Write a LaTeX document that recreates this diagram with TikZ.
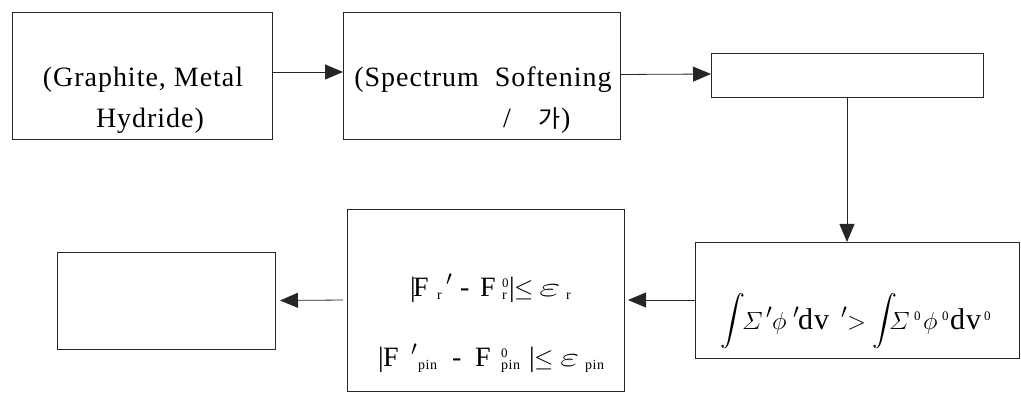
\documentclass[tikz,border=0pt]{standalone}
\usepackage{amsmath}
\usepackage{graphicx}
\usepackage{fontspec}
\setmainfont[LetterSpace=3.5]{Liberation Serif}
\newfontfamily\krfont{Noto Sans CJK KR}
% place a piece of a formula at a given offset from the start of its line
\newcommand\putat[2]{\makebox[0pt][l]{\hspace*{#1}#2}}
\newcommand\subs[1]{\raisebox{-2.5pt}{\fontsize{14}{14}\selectfont #1}}
\newcommand\sups[1]{\raisebox{9.5pt}{\fontsize{13}{13}\selectfont #1}}
\newcommand\mypr{\raisebox{11pt}{\fontsize{22}{22}\selectfont$\prime$}}
\newcommand\myle{\fontsize{28}{28}\selectfont$\leq$}
\newcommand\myeps[1]{\scalebox{#1}[1.1]{\fontsize{28}{28}\selectfont$\varepsilon$}}
\newcommand\myint{\raisebox{3pt}{\fontsize{26}{26}\selectfont$\displaystyle\int$}}
\usetikzlibrary{arrows.meta}
\begin{document}
\begin{tikzpicture}[x=1pt,y=-1pt,
  box/.style={draw=black!85,line width=0.8pt,inner sep=0pt,outer sep=0pt},
  lbl/.style={inner sep=0pt,anchor=base,font=\fontsize{28}{32}\selectfont},
  fml/.style={inner sep=0pt,anchor=base west,font=\fontsize{28}{32}\selectfont},
  arr/.style={draw=black!85,line width=0.8pt,-{Triangle[length=18pt,width=15pt]}}]
\useasboundingbox (0,0) rectangle (1021,403);
% boxes
\node[box,minimum width=260pt,minimum height=127pt] (b1) at (142,75.5) {};
\node[box,minimum width=277pt,minimum height=127pt] (b2) at (481.5,75.5) {};
\node[box,minimum width=272pt,minimum height=44pt] (b3) at (847,75) {};
\node[box,minimum width=324pt,minimum height=116pt] (b4) at (857,300) {};
\node[box,minimum width=277pt,minimum height=182pt] (b5) at (485.5,300) {};
\node[box,minimum width=218pt,minimum height=97pt] (b6) at (166,300.5) {};
% texts
\node[lbl] (t1a) at (143,87) {(Graphite, Metal};
\node[lbl] (t1b) at (150,128) {Hydride)};
\node[lbl] (t2a) at (483,87) {(Spectrum\ \ Softening};
\node[lbl,anchor=base west] (t2b) at (503,128) {/\hspace{28pt}{\krfont\fontsize{24}{24}\selectfont 가})};
\node[fml] (t5a) at (410,297) {%
  \putat{0pt}{|}\putat{3pt}{F}\putat{27pt}{\subs{r}}\putat{36pt}{\mypr}%
  \putat{50pt}{-}\putat{70pt}{F}\putat{92pt}{\sups{0}}\putat{92pt}{\subs{r}}%
  \putat{99pt}{|}\putat{104pt}{\myle}\putat{129pt}{\myeps{1.9}}\putat{156pt}{\subs{r}}%
  \hspace*{162pt}};
\node[fml] (t5b) at (378,367) {%
  \putat{0pt}{|}\putat{5pt}{F}\putat{33pt}{\mypr}\putat{40pt}{\subs{pin}}%
  \putat{74pt}{-}\putat{97pt}{F}\putat{123pt}{\sups{0}}\putat{123pt}{\subs{pin}}%
  \putat{151pt}{|}\putat{156pt}{\myle}\putat{182pt}{\myeps{1.7}}\putat{207pt}{\subs{pin}}%
  \hspace*{227pt}};
\node[fml,font=\fontsize{30}{34}\selectfont] (t4) at (720,330) {%
  \putat{0pt}{\myint}\putat{22pt}{\fontsize{33}{33}\selectfont$\varSigma$}\putat{46pt}{\mypr}%
  \putat{52pt}{\fontsize{33}{33}\selectfont$\phi$}\putat{73pt}{\mypr}\putat{78pt}{dv}%
  \putat{121pt}{\mypr}\putat{127pt}{$>$}%
  \putat{152pt}{\myint}\putat{169pt}{\fontsize{33}{33}\selectfont$\varSigma$}\putat{194pt}{\sups{0}}%
  \putat{203pt}{\fontsize{33}{33}\selectfont$\phi$}\putat{222pt}{\sups{0}}\putat{230pt}{dv}%
  \putat{264pt}{\sups{0}}%
  \hspace*{272pt}};
% connectors
\draw[arr] ([yshift=3.5pt]b1.east) -- ([yshift=3.5pt]b2.west);
\draw[arr] ([yshift=1pt]b2.east) -- ([yshift=1pt]b3.west);
\draw[arr] (b3.south) -- (b3.south |- b4.north);
\draw[arr,shorten >=4pt] (b4.west) -- (b5.east);
\draw[arr,shorten <=4pt,shorten >=5pt] (b5.west) -- (b6.east);
\end{tikzpicture}
\end{document}
